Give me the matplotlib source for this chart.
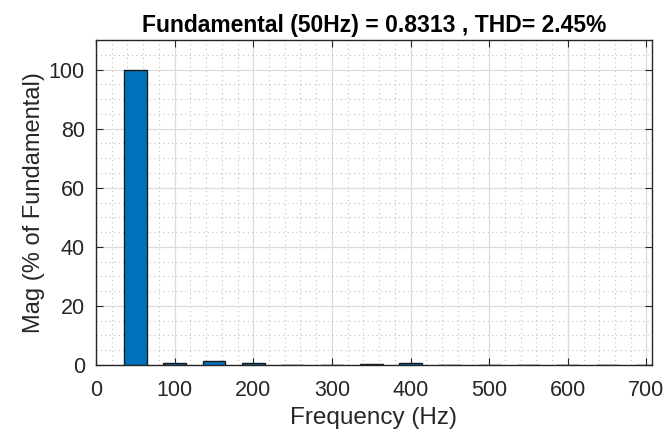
import matplotlib
matplotlib.use('Agg')
import matplotlib.pyplot as plt
from matplotlib.ticker import MultipleLocator

plt.rcParams['font.family'] = ['Liberation Sans', 'DejaVu Sans']

freqs = [50, 100, 150, 200, 250, 300, 350, 400, 450, 500, 550, 600, 650, 700]
mags = [100, 0.6, 1.3, 0.7, 0.1, 0.05, 0.3, 0.6, 0.1, 0.05, 0.03, 0.03, 0.03, 0.05]

fig = plt.figure(figsize=(6.68, 4.33), dpi=100)
ax = fig.add_axes([0.1437, 0.157, 0.8323, 0.7506])
ax.bar(freqs, mags, width=29, color='#0072BD', edgecolor='#1a1a1a', linewidth=1.0, zorder=3)

ax.set_xlim(0, 707)
ax.set_ylim(0, 110)
ax.xaxis.set_major_locator(MultipleLocator(100))
ax.xaxis.set_minor_locator(MultipleLocator(20))
ax.yaxis.set_major_locator(MultipleLocator(20))
ax.yaxis.set_minor_locator(MultipleLocator(5))
ax.grid(which='major', color='#dcdcdc', linewidth=0.9, zorder=0)
ax.grid(which='minor', color='#c0c0c0', linestyle=(0, (1, 3)), linewidth=0.8, zorder=0)
ax.tick_params(which='both', direction='in', top=True, right=True, labelsize=15.5, colors='#262626')
ax.tick_params(which='major', length=5, pad=8)
ax.tick_params(axis='x', which='major', pad=11)
ax.tick_params(which='minor', length=0)
for s in ax.spines.values():
    s.set_color('#262626')
    s.set_linewidth(1.0)

ax.set_title('Fundamental (50Hz) = 0.8313 , THD= 2.45%', fontsize=16.5, fontweight='bold', pad=6)
ax.set_xlabel('Frequency (Hz)', fontsize=17.5, color='#262626', labelpad=4)
ax.set_ylabel('Mag (% of Fundamental)', fontsize=17, color='#262626', labelpad=3)

fig.savefig('out.png', dpi=100)
